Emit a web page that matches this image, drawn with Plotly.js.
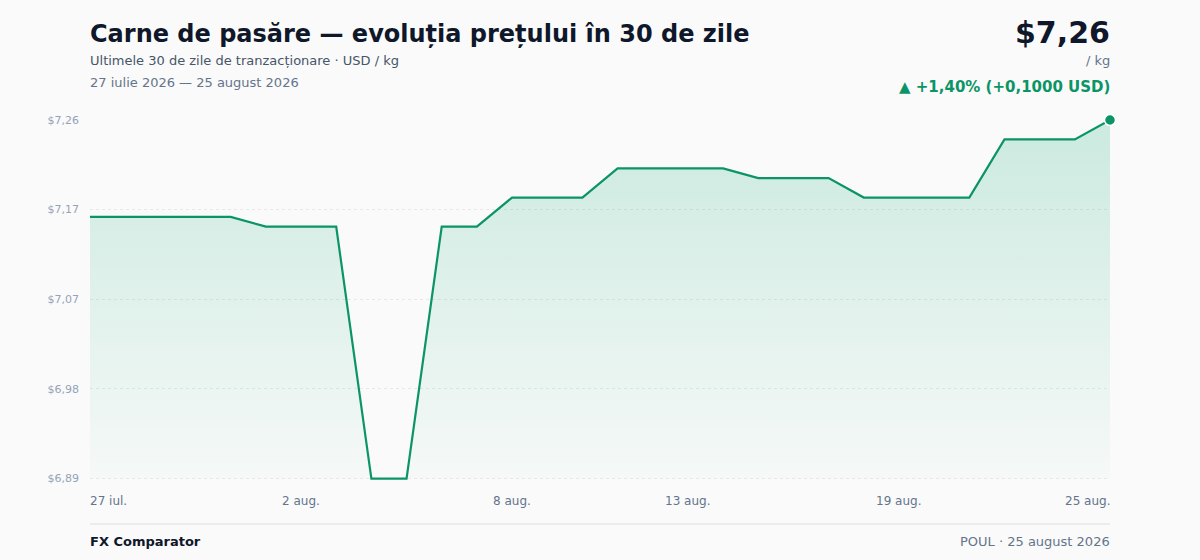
<!DOCTYPE html>
<html>
<head>
<meta charset="utf-8">
<script src="https://cdn.plot.ly/plotly-3.0.1.min.js"></script>
<style>
  html, body { margin: 0; padding: 0; background: #fafafa; }
  #chart { width: 1200px; height: 560px; }
</style>
</head>
<body>
<div id="chart"></div>
<script>
// ---- data ----
const dates = [
  '2026-07-27','2026-07-28','2026-07-29','2026-07-30','2026-07-31',
  '2026-08-01','2026-08-02','2026-08-03','2026-08-04','2026-08-05',
  '2026-08-06','2026-08-07','2026-08-08','2026-08-09','2026-08-10',
  '2026-08-11','2026-08-12','2026-08-13','2026-08-14','2026-08-15',
  '2026-08-16','2026-08-17','2026-08-18','2026-08-19','2026-08-20',
  '2026-08-21','2026-08-22','2026-08-23','2026-08-24','2026-08-25'
];
const prices = [
  7.16, 7.16, 7.16, 7.16, 7.16,
  7.15, 7.15, 7.15, 6.89, 6.89,
  7.15, 7.15, 7.18, 7.18, 7.18,
  7.21, 7.21, 7.21, 7.21, 7.20,
  7.20, 7.20, 7.18, 7.18, 7.18,
  7.18, 7.24, 7.24, 7.24, 7.26
];
const xTickDates = ['2026-07-27','2026-08-02','2026-08-08','2026-08-13','2026-08-19','2026-08-25'];
const xTickLabels = ['27 iul.','2 aug.','8 aug.','13 aug.','19 aug.','25 aug.'];
const yTickVals = [6.89, 6.9825, 7.075, 7.1675, 7.26];
const yTickLabels = ['$6,89','$6,98','$7,07','$7,17','$7,26'];

const titleText = 'Carne de pasăre — evoluția prețului în 30 de zile';
const subtitleText = 'Ultimele 30 de zile de tranzacționare · USD / kg';
const periodText = '27 iulie 2026 — 25 august 2026';
const lastPriceText = '$7,26';
const unitText = '/ kg';
const changeText = '▲ +1,40% (+0,1000 USD)';
const brandText = 'FX Comparator';
const sourceText = 'POUL · 25 august 2026';

// ---- styling ----
const green = '#0b9466';
const font = 'DejaVu Sans, sans-serif';
const yMin = Math.min(...prices);
const yMax = Math.max(...prices);
const yPad = (yMax - yMin) * 0.004;

const baseline = {
  x: dates, y: dates.map(() => yMin),
  type: 'scatter', mode: 'lines',
  line: { width: 0, color: 'rgba(0,0,0,0)' },
  hoverinfo: 'skip', showlegend: false
};
const area = {
  x: dates, y: prices,
  type: 'scatter', mode: 'lines',
  line: { color: green, width: 2.2 },
  fill: 'tonexty',
  fillgradient: {
    type: 'vertical',
    colorscale: [[0, 'rgba(16,170,115,0.02)'], [1, 'rgba(16,170,115,0.20)']]
  },
  hoverinfo: 'skip', showlegend: false
};
const lastPoint = {
  x: [dates[dates.length - 1]], y: [prices[prices.length - 1]],
  type: 'scatter', mode: 'markers',
  marker: { color: green, size: 11, line: { color: '#ffffff', width: 1.5 } },
  cliponaxis: false, hoverinfo: 'skip', showlegend: false
};

const annotations = [];
function addText(text, x, y, xanchor, size, color, bold) {
  annotations.push({
    xref: 'paper', yref: 'paper', x: x, y: y, xanchor: xanchor, yanchor: 'middle',
    text: bold ? '<b>' + text + '</b>' : text, showarrow: false,
    borderpad: 0, borderwidth: 0,
    font: { family: font, size: size, color: color }
  });
}
// pixel helpers: plot area y from 120 (top) to 480 (bottom)
const py = p => (480 - p) / 360;
addText(titleText, 0, py(34), 'left', 24, '#0f172a', true);
addText(subtitleText, 0, py(61), 'left', 13, '#475569', false);
addText(periodText, 0, py(83), 'left', 13, '#64748b', false);
addText(lastPriceText, 1, py(33), 'right', 30, '#0f172a', true);
addText(unitText, 1, py(61), 'right', 13, '#64748b', false);
addText(changeText, 1, py(87), 'right', 15, green, true);
addText(brandText, 0, py(541), 'left', 13, '#0f172a', true);
addText(sourceText, 1, py(541), 'right', 13, '#64748b', false);

xTickDates.forEach((d, i) => {
  annotations.push({
    xref: 'x', yref: 'paper', x: d, y: py(501), yanchor: 'middle',
    xanchor: i === 0 ? 'left' : (i === xTickDates.length - 1 ? 'right' : 'center'),
    text: xTickLabels[i], showarrow: false, borderpad: 0, borderwidth: 0,
    font: { family: font, size: 12, color: '#64748b' }
  });
});

const layout = {
  width: 1200, height: 560,
  margin: { l: 90, r: 90, t: 120, b: 80, pad: 0 },
  paper_bgcolor: '#fafafa', plot_bgcolor: '#fafafa',
  font: { family: font },
  xaxis: {
    type: 'date', range: [dates[0], dates[dates.length - 1]],
    showgrid: false, zeroline: false, showline: false, showticklabels: false, ticks: ''
  },
  yaxis: {
    range: [yMin - yPad, yMax], tickmode: 'array', tickvals: yTickVals, ticktext: yTickLabels,
    showgrid: true, gridcolor: '#e6e8ec', griddash: 'dot', gridwidth: 1,
    zeroline: false, showline: false, ticks: '', ticklabelstandoff: 10,
    tickfont: { family: font, size: 11, color: '#94a3b8' }
  },
  shapes: [{
    type: 'line', xref: 'paper', yref: 'paper', x0: 0, x1: 1,
    y0: py(524), y1: py(524), line: { color: '#e5e7eb', width: 1.5 }
  }],
  annotations: annotations,
  showlegend: false
};

Plotly.newPlot('chart', [baseline, area, lastPoint], layout, { displayModeBar: false, staticPlot: true });
</script>
</body>
</html>
